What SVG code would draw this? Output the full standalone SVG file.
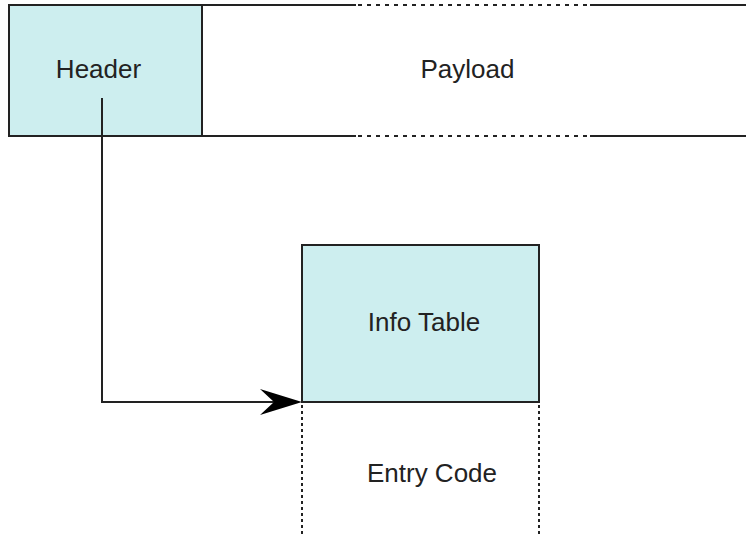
<svg xmlns="http://www.w3.org/2000/svg" width="746" height="537" viewBox="0 0 746 537">
<style>
.box{fill:#cdeeef;stroke:#222;stroke-width:2}
.ln{stroke:#222;stroke-width:2;fill:none}
.dh{stroke:#222;stroke-width:2;fill:none;stroke-dasharray:4 5}
.dv{stroke:#222;stroke-width:2;fill:none;stroke-dasharray:3 3}
.t{font-family:"Liberation Sans",Arial,sans-serif;font-size:26px;fill:#222;text-anchor:middle}
</style>
<rect width="746" height="537" fill="#fff"/>
<g id="payload">
<path class="ln" d="M202 5H356M590 5H746M202 136H356M590 136H746"/>
<path class="dh" d="M358 5H590M358 136H590"/>
<text class="t" x="467.5" y="78">Payload</text>
</g>
<g id="header">
<rect class="box" x="9" y="5" width="193" height="131"/>
<text class="t" x="98.5" y="78">Header</text>
</g>
<g id="info-table">
<rect class="box" x="302" y="245" width="237" height="157"/>
<text class="t" x="424" y="331">Info Table</text>
</g>
<g id="entry-code">
<path class="dv" d="M302 405V537M539 405V537"/>
<text class="t" x="432" y="482">Entry Code</text>
</g>
<g id="connectors">
<path class="ln" d="M102 98V402H274"/>
<path d="M302 402L260 389L274 402L260 415Z" fill="#000"/>
</g>
</svg>
